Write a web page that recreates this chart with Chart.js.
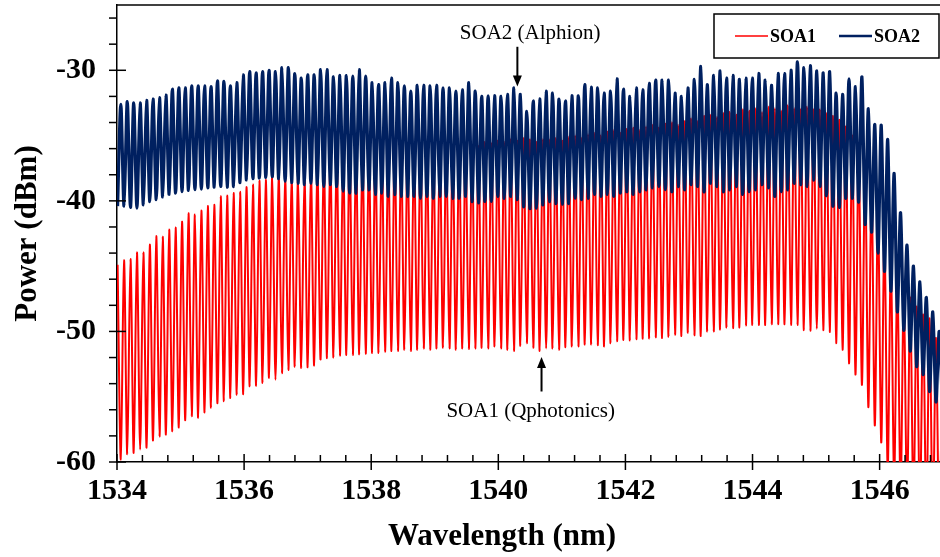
<!DOCTYPE html>
<html>
<head>
<meta charset="utf-8">
<title>SOA1 / SOA2 spectra</title>
<script src="https://cdn.jsdelivr.net/npm/chart.js@4.4.1/dist/chart.umd.min.js"></script>
<style>
  html, body { margin: 0; padding: 0; background: #fff; }
  #wrap { width: 940px; height: 557px; }
</style>
</head>
<body>
<div id="wrap"><canvas id="chart" width="940" height="557"></canvas></div>
<script>
// ── Fringe grid of the trace (nm) ─────────────────────────────────────────
const firstFringe = 1534.06;   // first SOA1 dip / SOA2 peak
const fringePitch = 0.1014;    // spacing between fringes

// ── SOA1 (Qphotonics), dBm ─────────────────────────────────────────────────
// tops, from the left edge then half a fringe after each dip
const soa1Peaks = [
  -44.9,
  -44.55, -44.45, -43.95, -43.95, -43.35, -42.7, -42.75, -42.2, -42.05, -41.6,
  -40.95, -41.05, -40.75, -40.4, -40.3, -39.65, -39.6, -39.4, -39.3, -38.95,
  -38.75, -38.45, -38.4, -38.1, -38.1, -38.15,
  -38.3, -38.2, -38.1, -37.8, -37.4,
  -36.5, -36.3, -36.2, -36.4, -36.1, -36.2, -36.0, -36.3, -36.1, -36.0, -36.2, -35.9, -36.0,
  -35.9, -36.0, -35.8, -35.9, -36.1, -35.8, -35.7, -35.9, -35.8, -35.6, -35.7,
  -35.8, -35.5, -35.6, -35.4, -35.5, -35.3, -35.4, -35.2, -35.3, -35.5, -35.3,
  -35.3, -35.2, -35.4, -35.1, -35.0, -35.2, -34.9, -34.8, -35.0, -34.7, -34.6,
  -34.8, -34.5, -34.4, -34.6, -34.3, -34.2, -34.4, -34.1, -34.0, -34.2,
  -33.9, -33.7, -33.9, -33.5, -33.4, -33.6, -33.3, -33.2, -33.4, -33.0, -33.1,
  -32.9, -33.2, -32.8, -32.9, -33.1, -32.7, -32.9, -33.0, -32.8, -33.0,
  -33.0, -33.3, -33.5, -33.8, -34.3, -35.0, -36.0, -37.2, -38.8, -40.6,
  -42.6, -44.5, -45.7, -47.0, -47.4, -48.1, -48.7, -49.0, -50.5, -51.0
];
// dips, one per fringe
const soa1Dips = [
  -59.8, -59.4, -59.3, -59.05, -58.9, -58.35, -58.05, -57.9, -57.65, -57.35, -56.8,
  -56.5, -56.6, -56.2, -55.85, -55.5, -55.35, -55.1, -54.85, -54.8, -54.2, -54.15,
  -53.95, -53.55, -53.7, -53.2, -52.95, -52.7, -52.8, -52.75, -52.6, -52.15, -52.05,
  -52.0, -51.85, -51.8, -51.8, -51.75, -51.7, -51.65, -51.65, -51.55, -51.5,
  -51.5, -51.4, -51.5, -51.4, -51.3, -51.4, -51.3, -51.25, -51.3, -51.4, -51.3,
  -51.35, -51.3, -51.25, -51.3, -51.15, -51.3, -51.4, -51.5, -51.1, -50.9,
  -51.25, -51.5, -51.3, -51.3, -51.4, -51.2, -51.15, -51.15, -51.0, -51.0, -51.05,
  -51.15, -50.9, -50.75, -50.65, -50.7, -50.6, -50.55, -50.55, -50.45, -50.5, -50.4,
  -50.25, -50.35, -50.1, -50.3, -50.35, -50.0, -50.0, -49.85, -49.7, -49.75, -49.7,
  -49.55, -49.5, -49.5, -49.5, -49.45, -49.45, -49.45, -49.5, -49.5, -49.9, -49.95,
  -49.8, -49.9, -50.05, -50.9, -51.4, -52.45, -53.3, -54.1, -55.8, -57.2,
  -58.5, -60.6, -61.5, -62.5, -63.0, -63.5, -64.0, -64.5, -65.0, -65.5
];

// ── SOA2 (Alphion), dBm ────────────────────────────────────────────────────
// tops, one per fringe
const soa2Peaks = [
  -32.6, -32.4, -32.5, -32.5, -32.3, -32.2, -32.1, -31.9, -31.45, -31.35, -31.35,
  -31.2, -31.2, -31.2, -31.25, -30.8, -30.85, -31.2, -30.95, -30.35, -30.1, -30.2,
  -30.1, -30.0, -30.1, -29.8, -29.8, -30.25, -30.6, -30.35, -30.35, -29.95, -29.95,
  -30.5, -30.4, -30.4, -30.45, -29.95, -30.45,
  -30.95, -31.1, -30.95, -30.6, -30.95, -31.2, -31.6, -31.15, -31.15, -31.2, -31.15,
  -31.35, -31.35, -31.6, -31.5, -30.95, -31.6, -32.0, -31.95, -31.95, -32.0, -31.85,
  -31.35, -31.85, -33.15, -32.35, -32.2, -31.6, -31.75, -32.2, -32.35, -31.95, -31.95,
  -31.1, -31.3, -31.35, -31.75, -31.6, -30.65, -31.45, -32.0, -31.35, -31.5, -31.0,
  -30.75, -30.75, -30.75, -31.75, -32.0, -31.35, -30.7, -29.7, -31.1, -30.4, -30.05,
  -30.6, -30.4, -30.7, -30.6, -30.6, -30.25, -30.75, -31.15, -30.25, -30.25, -30.0,
  -29.35, -29.8, -29.65, -30.05, -30.2, -30.1, -31.75, -31.85, -30.65, -31.25, -30.5,
  -32.95, -34.15, -34.2, -35.3, -37.9, -40.9, -43.4, -45.0, -46.2, -47.4, -48.5, -50.0
];
// dips, from the left edge then half a fringe after each top
const soa2Dips = [
  -40.4,
  -40.4, -40.5, -40.55, -40.3, -40.05, -39.9, -39.7, -39.5, -39.4, -39.3,
  -39.2, -39.15, -39.1, -39.0, -38.95, -38.9, -38.95, -38.9, -38.6, -38.4,
  -38.3, -38.25, -38.2, -38.15, -38.3, -38.5, -38.6, -38.65, -38.75, -38.65,
  -38.75, -38.9, -38.75, -38.9, -39.25, -39.4, -39.4, -39.15, -39.15,
  -39.5, -39.4, -39.65, -39.5, -39.65, -39.65, -39.65, -39.8, -39.65, -39.8,
  -39.65, -39.65, -39.8, -39.8, -39.65, -40.05, -40.15, -40.05, -40.05, -39.65,
  -39.8, -39.65, -39.9, -40.45, -40.6, -40.55, -40.3, -40.05, -40.2, -40.25,
  -40.2, -39.8, -39.9, -39.8, -39.5, -39.65, -39.5, -39.65, -39.4, -39.3,
  -39.5, -39.3, -39.15, -39.0, -38.9, -39.15, -39.3,
  -38.9, -39.15, -38.75, -38.9, -39.3, -38.65, -38.9, -39.3, -39.15, -38.9,
  -39.5, -39.3, -39.15, -38.75, -39.0, -39.65, -39.3, -39.15, -38.65, -38.75, -38.9,
  -38.4, -38.9, -39.6, -40.4, -40.5, -39.8, -39.8, -40.1, -41.8, -42.4,
  -44.0, -45.4, -46.9, -48.5, -49.9, -51.5, -52.7, -53.3, -54.6, -55.4, -56.0
];

// ── Axes ───────────────────────────────────────────────────────────────────
const xTickLabels = [1534, 1536, 1538, 1540, 1542, 1544, 1546];
const yTickLabels = [-60, -50, -40, -30];

const FONT = "'Liberation Serif', 'Times New Roman', serif";

// half-fringe values (starting at the left edge) with whole-fringe values between them
function weave(halfVals, wholeVals) {
  const pts = [];
  halfVals.forEach((v, i) => {
    pts.push({ x: firstFringe + (i - 0.5) * fringePitch, y: v });
    if (i < wholeVals.length) pts.push({ x: firstFringe + i * fringePitch, y: wholeVals[i] });
  });
  return pts;
}

const soa1Data = weave(soa1Peaks, soa1Dips);
const soa2Data = weave(soa2Dips, soa2Peaks);

// ── Frame, ticks, legend and notes drawn over the plot ───────────────────
const framePlugin = {
  id: "frame",
  afterDraw(chart) {
    const { ctx, chartArea: a, scales: { x, y } } = chart;
    ctx.save();
    ctx.strokeStyle = "#000";
    ctx.lineWidth = 1.5;

    // top edge of the plot box
    ctx.beginPath();
    ctx.moveTo(a.left, a.top);
    ctx.lineTo(a.right, a.top);
    ctx.stroke();

    // x ticks: minor every 0.4 nm (inside), major every 2 nm (crossing)
    for (let i = 0; i <= 32; i++) {
      const px = x.getPixelForValue(1534 + i * 0.4);
      const major = i % 5 === 0;
      ctx.beginPath();
      ctx.moveTo(px, a.bottom - (major ? 8 : 7));
      ctx.lineTo(px, a.bottom + (major ? 8 : 0));
      ctx.stroke();
    }
    // y ticks: minor every 2 dB (outside), major every 10 dB (crossing)
    for (let i = 0; i <= 17; i++) {
      const py = y.getPixelForValue(-60 + i * 2);
      const major = i % 5 === 0;
      ctx.beginPath();
      ctx.moveTo(a.left - 8, py);
      ctx.lineTo(a.left + (major ? 9 : 0), py);
      ctx.stroke();
    }

    // x-axis title
    ctx.fillStyle = "#000";
    ctx.font = `bold 31px ${FONT}`;
    ctx.textAlign = "center";
    ctx.textBaseline = "middle";
    ctx.fillText("Wavelength (nm)", 502, 537);

    // annotations with arrows
    ctx.font = `21px ${FONT}`;
    ctx.textBaseline = "alphabetic";
    const notes = [
      { text: "SOA2 (Alphion)",    tx: 1540.50, ty: -27.6,  ax: 1540.30, from: -28.2, to: -31.25 },
      { text: "SOA1 (Qphotonics)", tx: 1540.51, ty: -56.55, ax: 1540.68, from: -54.6, to: -51.95 },
    ];
    notes.forEach((n) => {
      ctx.fillText(n.text, x.getPixelForValue(n.tx), y.getPixelForValue(n.ty));
      const ax = x.getPixelForValue(n.ax);
      const y0 = y.getPixelForValue(n.from);
      const y1 = y.getPixelForValue(n.to);
      const dir = y1 > y0 ? 1 : -1;
      ctx.lineWidth = 2;
      ctx.beginPath();
      ctx.moveTo(ax, y0);
      ctx.lineTo(ax, y1 - dir * 9);
      ctx.stroke();
      ctx.beginPath();
      ctx.moveTo(ax, y1);
      ctx.lineTo(ax - 4.5, y1 - dir * 11);
      ctx.lineTo(ax + 4.5, y1 - dir * 11);
      ctx.closePath();
      ctx.fill();
    });

    // legend box
    const bx = 714, by = 14, bw = 225, bh = 44;
    ctx.fillStyle = "#fff";
    ctx.fillRect(bx, by, bw, bh);
    ctx.lineWidth = 1.5;
    ctx.strokeStyle = "#000";
    ctx.strokeRect(bx, by, bw, bh);
    const items = [
      { label: "SOA1", color: "#ff0000", width: 1.5, x0: 735 },
      { label: "SOA2", color: "#002060", width: 2.5, x0: 839 },
    ];
    ctx.font = `bold 18px ${FONT}`;
    ctx.textAlign = "left";
    ctx.textBaseline = "middle";
    items.forEach((it) => {
      ctx.strokeStyle = it.color;
      ctx.lineWidth = it.width;
      ctx.beginPath();
      ctx.moveTo(it.x0, by + bh / 2);
      ctx.lineTo(it.x0 + 33, by + bh / 2);
      ctx.stroke();
      ctx.fillStyle = "#000";
      ctx.fillText(it.label, it.x0 + 35, by + bh / 2 + 1);
    });
    ctx.restore();
  },
};

new Chart(document.getElementById("chart"), {
  type: "line",
  data: {
    datasets: [
      {
        label: "SOA1",
        data: soa1Data,
        borderColor: "#ff0000",
        borderWidth: 2,
        pointRadius: 0,
        tension: 0.3,
        borderJoinStyle: "round",
        order: 1,
      },
      {
        label: "SOA2",
        data: soa2Data,
        borderColor: "#002060",
        borderWidth: 3.2,
        pointRadius: 0,
        tension: 0.3,
        borderJoinStyle: "round",
        order: 0,
      },
    ],
  },
  options: {
    responsive: false,
    animation: false,
    devicePixelRatio: 1,
    layout: { padding: { top: 5, right: 0, left: 0, bottom: 0 } },
    plugins: { legend: { display: false }, tooltip: { enabled: false } },
    scales: {
      x: {
        type: "linear",
        min: 1534,
        max: 1546.95,
        afterFit: (s) => { s.height = 95; s.paddingLeft = 0; s.paddingRight = 0; },
        grid: { display: false, drawTicks: false },
        border: { display: true, color: "#000", width: 1.5 },
        ticks: {
          stepSize: 2,
          includeBounds: false,
          autoSkip: false,
          maxRotation: 0,
          padding: 11,
          color: "#000",
          font: { family: FONT, size: 30, weight: "bold" },
          callback: (v) => (xTickLabels.includes(v) ? String(v) : ""),
        },
      },
      y: {
        min: -60,
        max: -25,
        // fixed axis width; the -30 label sits well below the top, so no extra top room
        afterFit: (s) => { s.width = 117; s.paddingTop = 0; s.paddingBottom = 0; },
        grid: { display: false, drawTicks: false },
        border: { display: true, color: "#000", width: 1.5 },
        ticks: {
          stepSize: 10,
          includeBounds: false,
          padding: 21,
          color: "#000",
          font: { family: FONT, size: 30, weight: "bold" },
          callback: (v) => (yTickLabels.includes(v) ? String(v) : ""),
        },
        title: {
          display: true,
          text: "Power (dBm)",
          color: "#000",
          padding: { top: 9, bottom: 0 },
          font: { family: FONT, size: 31, weight: "bold" },
        },
      },
    },
  },
  plugins: [framePlugin],
});
</script>
</body>
</html>
